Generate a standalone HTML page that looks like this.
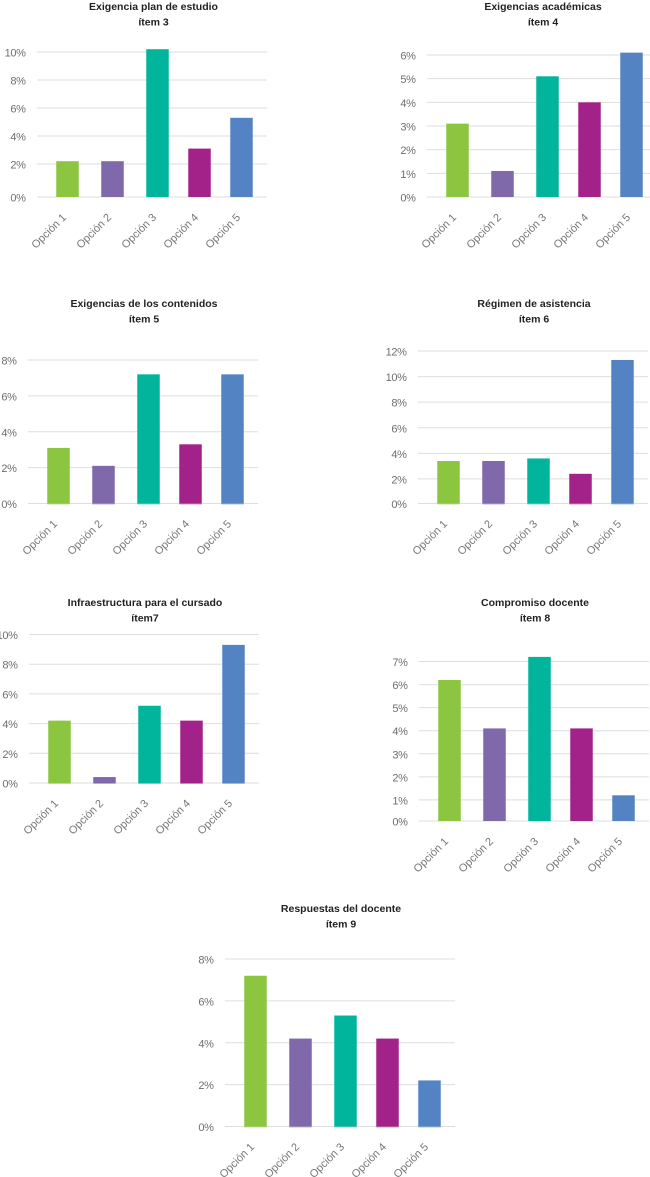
<!DOCTYPE html>
<html lang="es">
<head>
<meta charset="utf-8">
<title>Resultados por ítem</title>
<style>
  html, body { margin: 0; padding: 0; background: #fff; }
  #charts { display: block; width: 650px; height: 1177px; overflow: hidden; }
  .chart-title { font: bold 10.5px "Liberation Sans", sans-serif; fill: #222; text-anchor: middle; }
  .y-tick { font: 11px "Liberation Sans", sans-serif; fill: #6e6e6e; text-anchor: end; letter-spacing: -0.4px; }
  .x-tick { font: 11px "Liberation Sans", sans-serif; fill: #777; text-anchor: end; }
</style>
</head>
<body>
<svg id="charts" xmlns="http://www.w3.org/2000/svg" width="650" height="1177" viewBox="0 0 650 1177"></svg>
<script>
// ---- Data ----
const categories = ['Opción 1', 'Opción 2', 'Opción 3', 'Opción 4', 'Opción 5'];

const valuesItem3 = [2.2, 2.2, 10.2, 3.1, 5.3];
const valuesItem4 = [3.1, 1.1, 5.1, 4.0, 6.1];
const valuesItem5 = [3.1, 2.1, 7.2, 3.3, 7.2];
const valuesItem6 = [3.4, 3.4, 3.6, 2.4, 11.3];
const valuesItem7 = [4.2, 0.4, 5.2, 4.2, 9.3];
const valuesItem8 = [6.2, 4.1, 7.2, 4.1, 1.2];
const valuesItem9 = [7.2, 4.2, 5.3, 4.2, 2.2];

const ticksItem3 = [0, 2, 4, 6, 8, 10];
const ticksItem4 = [0, 1, 2, 3, 4, 5, 6];
const ticksItem5 = [0, 2, 4, 6, 8];
const ticksItem6 = [0, 2, 4, 6, 8, 10, 12];
const ticksItem7 = [0, 2, 4, 6, 8, 10];
const ticksItem8 = [0, 1, 2, 3, 4, 5, 6, 7];
const ticksItem9 = [0, 2, 4, 6, 8];

const barColors = ['#8cc640', '#7f69aa', '#00b59b', '#a2228a', '#5483c4'];

// ---- Chart layout ----
const charts = [
  { id: 'item-3', title: 'Exigencia plan de estudio', sub: 'ítem 3', titleX: 153.5, titleY: 10, left: 37, zeroY: 197, topY: 52, gap: 5, over: false, values: valuesItem3, ticks: ticksItem3 },
  { id: 'item-4', title: 'Exigencias académicas', sub: 'ítem 4', titleX: 543, titleY: 10, left: 427, zeroY: 197, topY: 55, gap: 0, over: false, values: valuesItem4, ticks: ticksItem4 },
  { id: 'item-5', title: 'Exigencias de los contenidos', sub: 'ítem 5', titleX: 144, titleY: 307, left: 28, zeroY: 503.5, topY: 360, gap: 0, over: true, values: valuesItem5, ticks: ticksItem5 },
  { id: 'item-6', title: 'Régimen de asistencia', sub: 'ítem 6', titleX: 534, titleY: 307, left: 418, zeroY: 503.5, topY: 351, gap: -1, over: true, values: valuesItem6, ticks: ticksItem6 },
  { id: 'item-7', title: 'Infraestructura para el cursado', sub: 'ítem7', titleX: 145, titleY: 606, left: 29, zeroY: 783, topY: 634.5, gap: 0, over: true, values: valuesItem7, ticks: ticksItem7 },
  { id: 'item-8', title: 'Compromiso docente', sub: 'ítem 8', titleX: 535, titleY: 606, left: 419, zeroY: 821, topY: 661.5, gap: -2, over: false, values: valuesItem8, ticks: ticksItem8 },
  { id: 'item-9', title: 'Respuestas del docente', sub: 'ítem 9', titleX: 341, titleY: 912, left: 225, zeroY: 1126.5, topY: 959, gap: 0, over: true, values: valuesItem9, ticks: ticksItem9 }
];

const svg = document.getElementById('charts');
const NS = 'http://www.w3.org/2000/svg';

function make(tag, attrs, parent) {
  const node = document.createElementNS(NS, tag);
  Object.keys(attrs).forEach(function (k) { node.setAttribute(k, attrs[k]); });
  parent.appendChild(node);
  return node;
}

function yScale(c) {
  const max = c.ticks[c.ticks.length - 1];
  const base = c.zeroY - c.gap;
  const unit = (base - c.topY) / max;
  return function (v) { return v === 0 ? c.zeroY : base - v * unit; };
}

function xScale(c) {
  return function (i) {
    return c.left + 30.5 + 45 * Math.min(i, 2) + 42 * Math.max(i - 2, 0);
  };
}

const GRID_WIDTH = 230;
const BAR_WIDTH = 22.5;

charts.forEach(function (c) {
  const y = yScale(c);
  const x = xScale(c);

  const group = make('g', {}, svg);
  
  

  const title = make('text', { class: 'chart-title', x: c.titleX, y: c.titleY }, group);
  title.textContent = c.title;
  
  

  const sub = make('text', { class: 'chart-title', x: c.titleX, y: c.titleY + 15.5 }, group);
  sub.textContent = c.sub;
  
  

  c.ticks.forEach(function (t) {
    const line = make('line', { x1: c.left, x2: c.left + GRID_WIDTH, y1: y(t), y2: y(t), stroke: '#dedede', 'stroke-width': 1 }, group);
    
    

    const label = make('text', { class: 'y-tick', x: c.left - 11.5, y: y(t) + 4.5 }, group);
    label.textContent = t + '%';
    
    
  });

  c.values.forEach(function (v, i) {
    const top = y(v);
    const bar = make('rect', { x: x(i) - BAR_WIDTH / 2, y: top, width: BAR_WIDTH, height: c.zeroY - top, fill: barColors[i] }, group);
    
    
  });

  if (c.over) {
    c.values.forEach(function (v, i) {
      const edge = make('rect', { x: x(i) - BAR_WIDTH / 2, y: c.zeroY, width: BAR_WIDTH, height: 1, fill: barColors[i], opacity: 0.5 }, group);
      
      
    });
  }

  categories.forEach(function (name, i) {
    const px = x(i) - 0.5;
    const py = c.zeroY + 21;
    const label = make('text', { class: 'x-tick', x: px, y: py, transform: 'rotate(-45 ' + px + ' ' + py + ')' }, group);
    label.textContent = name;
    
    
  });
});
</script>
</body>
</html>
